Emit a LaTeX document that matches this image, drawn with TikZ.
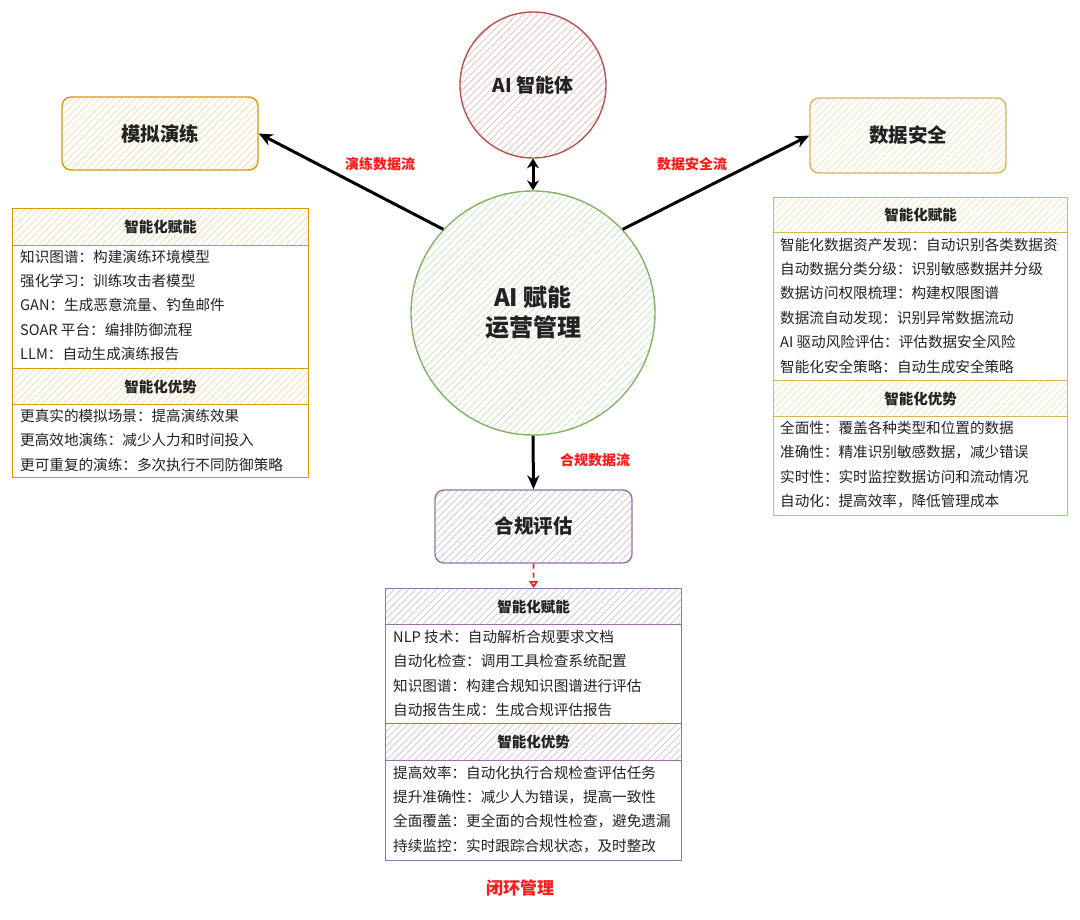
\documentclass[tikz,border=0pt]{standalone}
\usepackage{fontspec}
\setmainfont{Noto Sans CJK SC}
\usetikzlibrary{patterns.meta,arrows.meta}
\definecolor{orS}{HTML}{D79B00}
\definecolor{yeS}{HTML}{D6B656}
\definecolor{puS}{HTML}{9673A6}
\definecolor{reS}{HTML}{B85450}
\definecolor{grS}{HTML}{82B366}
\definecolor{lblred}{HTML}{FF1A1A}
\definecolor{txt}{HTML}{222222}
\begin{document}
\begin{tikzpicture}[x=1pt,y=-1pt,
  hatch/.style={pattern={Lines[angle=45,distance=5pt,line width=0.7pt]},pattern color=#1},
  titlebox/.style 2 args={draw=#1, line width=1.4pt, rounded corners=9pt, hatch=#2,
    minimum width=196pt, minimum height=73pt, inner sep=0pt,
    font=\fontsize{19.5pt}{23pt}\selectfont\bfseries, text=txt},
  circ/.style 2 args={circle, draw=#1, line width=1.4pt, hatch=#2, inner sep=0pt, text=txt, align=center},
  tbl/.style={draw=#1, line width=1.4pt, fill=white, inner sep=0pt, anchor=north west},
  hdr/.style 2 args={draw=#1, line width=1.2pt, hatch=#2, inner sep=0pt, anchor=north west,
    font=\fontsize{14.5pt}{17pt}\selectfont\bfseries, text=txt},
  rowtxt/.style={anchor=west, inner sep=0pt, font=\fontsize{14.6pt}{17pt}\selectfont, text=txt},
  flowlbl/.style={inner sep=0pt, font=\fontsize{14pt}{17pt}\selectfont\bfseries, text=lblred},
  arr/.style={line width=3pt, black, -{Stealth[length=14pt,width=12pt]}},
  darr/.style={line width=3pt, black, {Stealth[length=10pt,width=12pt]}-{Stealth[length=10pt,width=12pt]}}
]
\useasboundingbox (0,0) rectangle (1080,920);
\fill[white] (0,0) rectangle (1080,920);

% circles
\node[circ={reS}{reS!40}, minimum size=146pt, font=\fontsize{19pt}{23pt}\selectfont\bfseries] (R) at (533,85) {AI 智能体};
\node[circ={grS}{grS!40}, minimum size=244pt, font=\fontsize{24pt}{30pt}\selectfont\bfseries] (G) at (533,313) {AI 赋能\\运营管理};

% title boxes
\node[titlebox={orS}{orS!35}] (MB) at (160,133.5) {模拟演练};
\node[titlebox={yeS}{yeS!40}, minimum height=75pt] (DB) at (908,135.5) {数据安全};
\node[titlebox={puS}{puS!45}, minimum width=197pt] (CB) at (533.5,526.5) {合规评估};

% left table
\node[tbl=orS, minimum width=296pt, minimum height=269pt] (LT) at (12,208) {};
\node[hdr={orS}{orS!35}, minimum width=296pt, minimum height=37pt] (LH1) at (12,208) {智能化赋能};
\node[hdr={orS}{orS!35}, minimum width=296pt, minimum height=36pt] (LH2) at (12,368) {智能化优势};
\node[rowtxt] (L1) at (20,257) {知识图谱：构建演练环境模型};
\node[rowtxt] (L2) at (20,281) {强化学习：训练攻击者模型};
\node[rowtxt] (L3) at (20,305) {GAN：生成恶意流量、钓鱼邮件};
\node[rowtxt] (L4) at (20,330) {SOAR 平台：编排防御流程};
\node[rowtxt] (L5) at (20,354) {LLM：自动生成演练报告};
\node[rowtxt] (L6) at (20,416) {更真实的模拟场景：提高演练效果};
\node[rowtxt] (L7) at (20,440) {更高效地演练：减少人力和时间投入};
\node[rowtxt] (L8) at (20,465) {更可重复的演练：多次执行不同防御策略};

% right table
\node[tbl=yeS, minimum width=294pt, minimum height=318pt] (RT) at (773,197) {};
\node[hdr={yeS}{yeS!40}, minimum width=294pt, minimum height=35pt] (RH1) at (773,197) {智能化赋能};
\node[hdr={yeS}{yeS!40}, minimum width=294pt, minimum height=36pt] (RH2) at (773,380) {智能化优势};
\node[rowtxt] (R1) at (780,245) {智能化数据资产发现：自动识别各类数据资};
\node[rowtxt] (R2) at (780,269) {自动数据分类分级：识别敏感数据并分级};
\node[rowtxt] (R3) at (780,293) {数据访问权限梳理：构建权限图谱};
\node[rowtxt] (R4) at (780,318) {数据流自动发现：识别异常数据流动};
\node[rowtxt] (R5) at (780,342) {AI 驱动风险评估：评估数据安全风险};
\node[rowtxt] (R6) at (780,367) {智能化安全策略：自动生成安全策略};
\node[rowtxt] (R7) at (780,428) {全面性：覆盖各种类型和位置的数据};
\node[rowtxt] (R8) at (780,452) {准确性：精准识别敏感数据，减少错误};
\node[rowtxt] (R9) at (780,477) {实时性：实时监控数据访问和流动情况};
\node[rowtxt] (R10) at (780,501) {自动化：提高效率，降低管理成本};

% bottom table
\node[tbl=puS, minimum width=296pt, minimum height=272pt] (BT) at (385,588) {};
\node[hdr={puS}{puS!45}, minimum width=296pt, minimum height=36pt] (BH1) at (385,588) {智能化赋能};
\node[hdr={puS}{puS!45}, minimum width=296pt, minimum height=37pt] (BH2) at (385,723) {智能化优势};
\node[rowtxt] (B1) at (393,637) {NLP 技术：自动解析合规要求文档};
\node[rowtxt] (B2) at (393,661) {自动化检查：调用工具检查系统配置};
\node[rowtxt] (B3) at (393,686) {知识图谱：构建合规知识图谱进行评估};
\node[rowtxt] (B4) at (393,710) {自动报告生成：生成合规评估报告};
\node[rowtxt] (B5) at (393,773) {提高效率：自动化执行合规检查评估任务};
\node[rowtxt] (B6) at (393,797) {提升准确性：减少人为错误，提高一致性};
\node[rowtxt] (B7) at (393,821) {全面覆盖：更全面的合规性检查，避免遗漏};
\node[rowtxt] (B8) at (393,846) {持续监控：实时跟踪合规状态，及时整改};

% connectors
\draw[darr] (R.south) -- (G.north);
\draw[arr] (G.137) -- (MB.east);
\draw[arr] (G.43) -- (DB.west);
\draw[arr] (G.south) -- (CB.north);
\draw[lblred, line width=1.6pt, dash pattern=on 5pt off 4pt, -{Triangle[open,length=7pt,width=9pt]}] (CB.south) -- (BH1.north);

% labels
\node[flowlbl] (F1) at (380,164) {演练数据流};
\node[flowlbl] (F2) at (692,164) {数据安全流};
\node[flowlbl] (F3) at (595,460) {合规数据流};
\node[flowlbl, font=\fontsize{17pt}{20pt}\selectfont\bfseries] (F4) at (520,888) {闭环管理};
\end{tikzpicture}
\end{document}
